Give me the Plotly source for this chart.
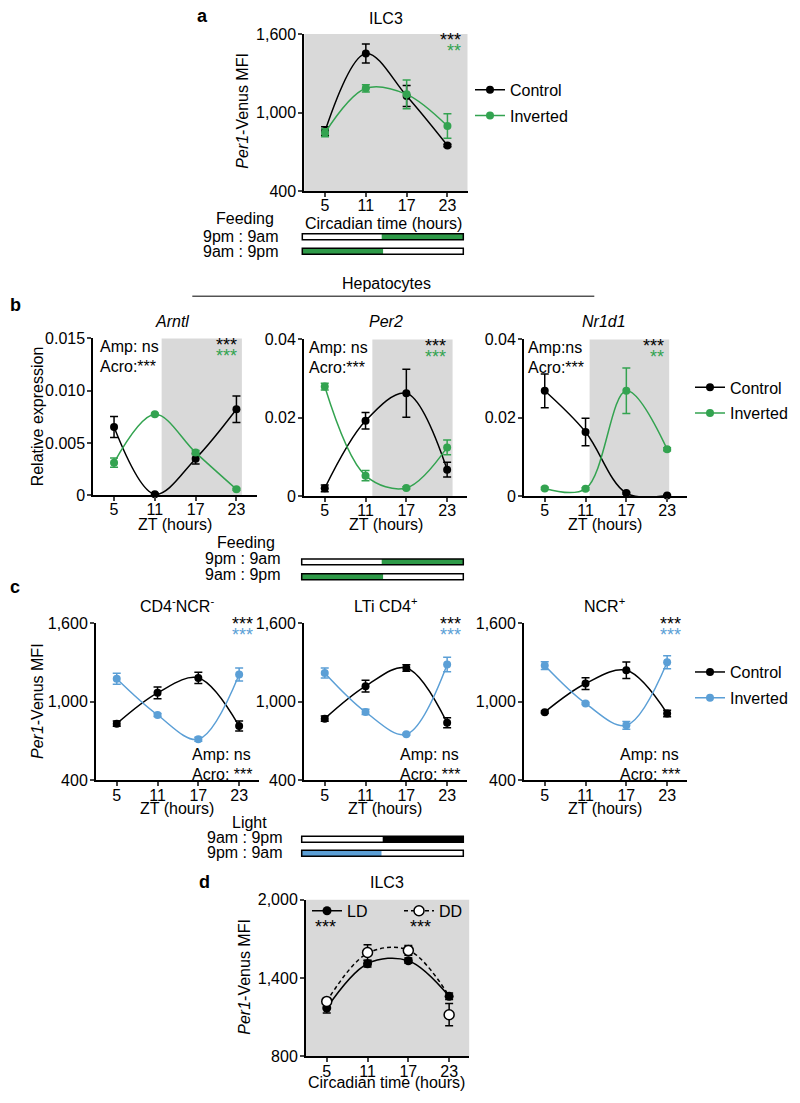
import plotly.graph_objects as go

W, H = 800, 1103
FONT = "Liberation Sans, Arial, sans-serif"
GREEN = "#33a350"
GREEN_BAR = "#2e9a48"
BLUE = "#5b9fd6"
GRAY = "#d9d9d9"

# ---------------- data ----------------
zt = [5, 11, 17, 23]
zt_ticks = ["5", "11", "17", "23"]

# panel a: ILC3 Per1-Venus MFI (feeding)
a_ctrl = [860, 1452, 1128, 750]
a_ctrl_err = [32, 73, 80, 10]
a_inv = [847, 1186, 1140, 898]
a_inv_err = [30, 28, 110, 94]

# panel b: hepatocytes relative expression
arntl_ctrl = [0.00653, 0.0001, 0.0035, 0.00822]
arntl_ctrl_err = [0.001, 0.0001, 0.0005, 0.00127]
arntl_inv = [0.00312, 0.00774, 0.00408, 0.00057]
arntl_inv_err = [0.00045, 0.0001, 0.0002, 0.0001]

per2_ctrl = [0.00203, 0.01924, 0.02627, 0.00678]
per2_ctrl_err = [0.00085, 0.0021, 0.0061, 0.0019]
per2_inv = [0.02797, 0.00525, 0.00212, 0.01246]
per2_inv_err = [0.00085, 0.0013, 0.0003, 0.0019]

nr1d1_ctrl = [0.0269, 0.0164, 0.0008, 0.0002]
nr1d1_ctrl_err = [0.0043, 0.0035, 0.0002, 0.0002]
nr1d1_inv = [0.0020, 0.0019, 0.0269, 0.0120]
nr1d1_inv_err = [0.0003, 0.0003, 0.0058, 0.0004]

# panel c: ILC3 subsets (light inversion)
c1_ctrl = [833, 1068, 1182, 815]
c1_ctrl_err = [20, 45, 43, 38]
c1_inv = [1175, 899, 714, 1208]
c1_inv_err = [42, 12, 15, 50]

c2_ctrl = [871, 1119, 1258, 840]
c2_ctrl_err = [20, 45, 25, 38]
c2_inv = [1220, 922, 752, 1284]
c2_inv_err = [38, 20, 8, 55]

c3_ctrl = [921, 1139, 1240, 911]
c3_ctrl_err = [8, 45, 63, 25]
c3_inv = [1276, 987, 820, 1301]
c3_inv_err = [30, 8, 30, 50]

# panel d: LD vs DD
d_ld = [1170, 1510, 1533, 1260]
d_ld_err = [38, 25, 20, 25]
d_dd = [1221, 1596, 1612, 1119]
d_dd_err = [12, 60, 38, 85]
d_dd_fit = [1221, 1590, 1615, 1262]

mfi_ticks = [400, 1000, 1600]
mfi_ticktext = ["400", "1,000", "1,600"]
arntl_ticks = [0, 0.005, 0.010, 0.015]
arntl_ticktext = ["0", "0.005", "0.010", "0.015"]
rel_ticks = [0, 0.02, 0.04]
rel_ticktext = ["0", "0.02", "0.04"]
d_ticks = [800, 1400, 2000]
d_ticktext = ["800", "1,400", "2,000"]

# the photographed page maps page-y to image-y as  y_img = 7.2 + 0.9857 * y_page
Y_OFF, Y_SCALE = 7.2, 0.9857


def X(px):
    return px / W


def Y(py):
    return 1 - ((py - Y_OFF) / Y_SCALE) / H


fig = go.Figure()
layout = dict(
    width=W, height=H, margin=dict(l=0, r=0, t=0, b=0),
    paper_bgcolor="white", plot_bgcolor="rgba(0,0,0,0)",
    font=dict(family=FONT, size=16, color="black"),
    showlegend=True,
)
shapes = []
annotations = []

XR = [1.95, 25.95]
XSPAN = 163.2


def add_axes(i, x0, y0, y1, yrange, ytv, ytt):
    sx = "" if i == 1 else str(i)
    layout["xaxis" + sx] = dict(
        domain=[X(x0), X(x0 + XSPAN)], range=XR, anchor="y" + sx,
        tickvals=zt, ticktext=zt_ticks, ticks="outside", ticklen=4, tickwidth=1.5,
        showline=True, linewidth=2, linecolor="black", showgrid=False, zeroline=False,
        tickfont=dict(size=16, family=FONT), fixedrange=True, ticklabelstandoff=-5,
    )
    layout["yaxis" + sx] = dict(
        domain=[Y(y1), Y(y0)], range=yrange, anchor="x" + sx,
        tickvals=ytv, ticktext=ytt, ticks="outside", ticklen=4, tickwidth=1.5,
        showline=True, linewidth=2, linecolor="black", showgrid=False, zeroline=False,
        tickfont=dict(size=16, family=FONT), fixedrange=True, ticklabelstandoff=-1,
    )


def series(i, y, err, color, name, legend=None, dash=None, fill=None, size=8, line_y=None):
    sx = "" if i == 1 else str(i)
    mk = dict(size=size, color=fill if fill else color,
              line=dict(color=color, width=1.5 if fill else 0))
    ln = dict(color=color, width=1.5, shape="spline", dash=dash)
    if line_y is not None:
        fig.add_trace(go.Scatter(
            x=zt, y=line_y, mode="lines", xaxis="x" + sx, yaxis="y" + sx,
            line=ln, showlegend=False, cliponaxis=False, hoverinfo="skip"))
        fig.add_trace(go.Scatter(
            x=zt, y=y, mode="markers", name=name, xaxis="x" + sx, yaxis="y" + sx,
            marker=mk,
            error_y=dict(type="data", array=err, color=color, thickness=1.5, width=4),
            showlegend=False, cliponaxis=False))
        if legend:
            # legend entry only (no data points)
            fig.add_trace(go.Scatter(
                x=[None], y=[None], mode="lines+markers", name=name,
                xaxis="x" + sx, yaxis="y" + sx, line=ln, marker=mk,
                showlegend=True, legend=legend, legendgroup=name))
        return
    fig.add_trace(go.Scatter(
        x=zt, y=y, mode="lines+markers", name=name, xaxis="x" + sx, yaxis="y" + sx,
        line=ln, marker=mk,
        error_y=dict(type="data", array=err, color=color, thickness=1.5, width=4),
        showlegend=legend is not None, legend=legend if legend else "legend",
        legendgroup=(legend or "") + name, cliponaxis=False))


def txt(x, y, s, size=16, xa="center", color="black", angle=0):
    annotations.append(dict(
        x=X(x), y=Y(y), xref="paper", yref="paper", text=s, showarrow=False,
        xanchor=xa, yanchor="middle", textangle=angle,
        font=dict(size=size, color=color, family=FONT)))


def bar(x0, xm, x1, yc, left, right):
    h = 3
    shapes.append(dict(type="rect", xref="paper", yref="paper", x0=X(x0), x1=X(xm),
                       y0=Y(yc + h), y1=Y(yc - h), fillcolor=left, line=dict(width=0)))
    shapes.append(dict(type="rect", xref="paper", yref="paper", x0=X(xm), x1=X(x1),
                       y0=Y(yc + h), y1=Y(yc - h), fillcolor=right, line=dict(width=0)))
    shapes.append(dict(type="rect", xref="paper", yref="paper", x0=X(x0), x1=X(x1),
                       y0=Y(yc + h), y1=Y(yc - h), fillcolor="rgba(0,0,0,0)",
                       line=dict(color="black", width=1.5)))


def gray(i, gx0=None, gx1=None):
    sx = "" if i == 1 else str(i)
    if gx0 is None:
        shapes.append(dict(type="rect", xref="x" + sx + " domain", yref="y" + sx + " domain",
                           x0=0, x1=1, y0=0, y1=1, fillcolor=GRAY, line=dict(width=0),
                           layer="below"))
    else:
        shapes.append(dict(type="rect", xref="x" + sx, yref="y" + sx + " domain",
                           x0=gx0, x1=gx1, y0=0, y1=1, fillcolor=GRAY, line=dict(width=0),
                           layer="below"))


# ---------------- panel a ----------------
add_axes(1, 304.3, 33.3, 190.7, [400, 1600], mfi_ticks, mfi_ticktext)
gray(1)
series(1, a_ctrl, a_ctrl_err, "black", "Control", legend="legend")
series(1, a_inv, a_inv_err, GREEN, "Inverted", legend="legend")
txt(203, 15, "<b>a</b>", size=18)
txt(386, 18, "ILC3")
txt(243, 110, "<i>Per1</i>-Venus MFI", angle=-90)
txt(463, 39, "***", size=18, xa="right")
txt(463, 50, "**", size=18, xa="right", color=GREEN)
txt(383, 223, "Circadian time (hours)")
txt(245, 217.5, "Feeding")
txt(281, 236, "9pm : 9am", xa="right")
txt(281, 251, "9am : 9pm", xa="right")
bar(302.3, 381.7, 463.3, 236.3, "white", GREEN_BAR)
bar(302.3, 383.3, 463.3, 250.7, GREEN_BAR, "white")

# ---------------- panel b ----------------
txt(386, 283, "Hepatocytes")
shapes.append(dict(type="line", xref="paper", yref="paper", x0=X(192.3), x1=X(594.3),
                   y0=Y(295.7), y1=Y(295.7), line=dict(color="black", width=1)))
txt(15, 305, "<b>b</b>", size=18)

add_axes(2, 93.3, 338, 495, [0, 0.015], arntl_ticks, arntl_ticktext)
gray(2, 12, 23.8)
series(2, arntl_ctrl, arntl_ctrl_err, "black", "Control")
series(2, arntl_inv, arntl_inv_err, GREEN, "Inverted")
txt(172, 320.7, "<i>Arntl</i>")
txt(98, 346, "Amp: ns", xa="left")
txt(98, 366, "Acro:***", xa="left")
txt(239.3, 345, "***", size=18, xa="right")
txt(239.3, 356, "***", size=18, xa="right", color=GREEN)
txt(175, 524, "ZT (hours)")
txt(37, 416, "Relative expression", angle=-90)

add_axes(3, 304, 339, 496, [0, 0.04], rel_ticks, rel_ticktext)
gray(3, 12, 23.8)
series(3, per2_ctrl, per2_ctrl_err, "black", "Control")
series(3, per2_inv, per2_inv_err, GREEN, "Inverted")
txt(386, 320.7, "<i>Per2</i>")
txt(307, 347, "Amp: ns", xa="left")
txt(307, 367, "Acro:***", xa="left")
txt(447.7, 346, "***", size=18, xa="right")
txt(447.7, 357, "***", size=18, xa="right", color=GREEN)
txt(386, 524, "ZT (hours)")

add_axes(4, 524, 339, 496, [0, 0.04], rel_ticks, rel_ticktext)
gray(4, 11.6, 23.3)
series(4, nr1d1_ctrl, nr1d1_ctrl_err, "black", "Control", legend="legend2")
series(4, nr1d1_inv, nr1d1_inv_err, GREEN, "Inverted", legend="legend2")
txt(604, 320.7, "<i>Nr1d1</i>")
txt(526, 347, "Amp:ns", xa="left")
txt(526, 367, "Acro:***", xa="left")
txt(665.7, 346, "***", size=18, xa="right")
txt(665.7, 357, "**", size=18, xa="right", color=GREEN)
txt(605, 524, "ZT (hours)")

txt(246, 542.3, "Feeding")
txt(283, 558.3, "9pm : 9am", xa="right")
txt(283, 574, "9am : 9pm", xa="right")
bar(301.7, 381.7, 463.3, 561.7, "white", GREEN_BAR)
bar(301.7, 383.3, 463.3, 576.7, GREEN_BAR, "white")

# ---------------- panel c ----------------
txt(15, 586.7, "<b>c</b>", size=18)
c_sets = [
    (5, 96, c1_ctrl, c1_ctrl_err, c1_inv, c1_inv_err, "CD4<sup>-</sup>NCR<sup>-</sup>", 176.7, None),
    (6, 304, c2_ctrl, c2_ctrl_err, c2_inv, c2_inv_err, "LTi CD4<sup>+</sup>", 385, None),
    (7, 524, c3_ctrl, c3_ctrl_err, c3_inv, c3_inv_err, "NCR<sup>+</sup>", 604, "legend3"),
]
for i, x0, cc, cce, ci, cie, title, tx, leg in c_sets:
    add_axes(i, x0, 623, 780.5, [400, 1600], mfi_ticks, mfi_ticktext)
    series(i, cc, cce, "black", "Control", legend=leg)
    series(i, ci, cie, BLUE, "Inverted", legend=leg)
    txt(tx, 605, title)
    txt(x0 + 94, 755, "Amp: ns", xa="left")
    txt(x0 + 94, 774.3, "Acro: ***", xa="left")
    txt(x0 + 159, 624, "***", size=18, xa="right")
    txt(x0 + 159, 635, "***", size=18, xa="right", color=BLUE)
    txt(x0 + 81, 808.3, "ZT (hours)")
txt(37, 701, "<i>Per1</i>-Venus MFI", angle=-90)

txt(249.3, 822.3, "Light")
txt(285, 838, "9am : 9pm", xa="right")
txt(285, 853, "9pm : 9am", xa="right")
bar(301.7, 382.7, 463.3, 839.3, "white", "black")
bar(301.7, 381.7, 463.3, 853.3, BLUE, "white")

# ---------------- panel d ----------------
add_axes(8, 306, 900, 1056.7, [800, 2000], d_ticks, d_ticktext)
gray(8)
series(8, d_ld, d_ld_err, "black", "LD", legend="legend4", size=9)
series(8, d_dd, d_dd_err, "black", "DD", legend="legend5", dash="4px,3px", fill="white",
       size=10, line_y=d_dd_fit)
txt(205, 882.3, "<b>d</b>", size=18)
txt(386.7, 882.3, "ILC3")
txt(245, 977, "<i>Per1</i>-Venus MFI", angle=-90)
txt(325, 927.3, "***", size=18)
txt(420.5, 927.3, "***", size=18)
txt(386.7, 1083.3, "Circadian time (hours)")

leg_common = dict(bgcolor="rgba(0,0,0,0)", borderwidth=0, font=dict(size=16, family=FONT),
                  xanchor="left", yanchor="top", tracegroupgap=2, itemclick=False,
                  itemdoubleclick=False)
layout["legend"] = dict(x=X(470), y=Y(72), **leg_common)
layout["legend2"] = dict(x=X(690), y=Y(370), **leg_common)
layout["legend3"] = dict(x=X(690), y=Y(655), **leg_common)
layout["legend4"] = dict(x=X(307), y=Y(894), **leg_common)
layout["legend5"] = dict(x=X(399), y=Y(894), **leg_common)

layout["shapes"] = shapes
layout["annotations"] = annotations
fig.update_layout(**layout)

page_fix = (
    "document.documentElement.style.margin='0';"
    "document.documentElement.style.overflow='hidden';"
    "document.body.style.margin='0';"
    "document.body.style.overflow='hidden';"
    "var gd=document.getElementById('{plot_id}');"
    "gd.style.position='absolute';gd.style.left='0px';gd.style.top='0px';"
)
fig.write_html("out.html", post_script=page_fix, config={"displayModeBar": False})
